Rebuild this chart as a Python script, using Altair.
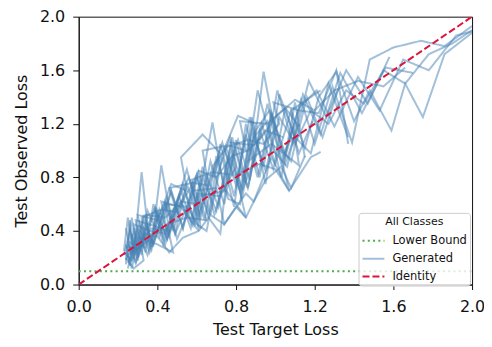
import altair as alt
import pandas as pd

# ---- data ----
kinds = ["Lower Bound", "Generated", "Identity"]
kind_colors = ["#4daa4d", "rgba(70,130,180,0.5)", "#dc143c"]

x_ticks = [0.0, 0.4, 0.8, 1.2, 1.6, 2.0]
y_ticks = [0.0, 0.4, 0.8, 1.2, 1.6, 2.0]

lower_x = [0.0, 2.0]
lower_y = [0.1, 0.1]

identity_x = [0.0, 2.0]
identity_y = [0.0, 2.0]

gen_x = [
    [0.25, 0.27, 0.31, 0.36, 0.40, 0.45, 0.52, 0.58, 0.63, 0.70, 0.76, 0.82, 0.88, 0.95, 1.02, 1.10, 1.18, 1.27, 1.36, 1.45, 1.55, 1.66, 1.78, 1.90, 2.00],
    [0.24, 0.26, 0.30, 0.33, 0.38, 0.44, 0.49, 0.55, 0.61, 0.67, 0.74, 0.80, 0.86, 0.93, 1.00, 1.08, 1.15, 1.22, 1.31, 1.40, 1.48, 1.59, 1.66, 1.75, 1.86, 2.00],
    [0.26, 0.28, 0.32, 0.35, 0.41, 0.47, 0.53, 0.60, 0.66, 0.72, 0.79, 0.85, 0.91, 0.98, 1.05, 1.13, 1.20, 1.29, 1.39, 1.48, 1.60, 1.74, 1.86, 2.00],
    [0.23, 0.25, 0.29, 0.34, 0.39, 0.43, 0.50, 0.56, 0.62, 0.68, 0.75, 0.83, 0.90, 0.97, 1.05, 1.12, 1.21, 1.30, 1.42, 1.53, 1.65, 1.78, 1.92, 2.00],
    [0.25, 0.27, 0.30, 0.34, 0.37, 0.42, 0.48, 0.54, 0.59, 0.65, 0.71, 0.78, 0.84, 0.91, 0.99, 1.06, 1.14, 1.23, 1.33, 1.44, 1.56, 1.70],
    [0.24, 0.26, 0.28, 0.32, 0.36, 0.40, 0.45, 0.51, 0.57, 0.63, 0.69, 0.75, 0.81, 0.87, 0.94, 1.01, 1.08, 1.16, 1.24, 1.32],
    [0.26, 0.29, 0.33, 0.37, 0.41, 0.46, 0.52, 0.57, 0.63, 0.68, 0.74, 0.80, 0.86, 0.92, 0.99, 1.05, 1.12, 1.19],
    [0.24, 0.27, 0.31, 0.35, 0.40, 0.44, 0.49, 0.55, 0.60, 0.66, 0.72, 0.77, 0.83, 0.89, 0.96, 1.03, 1.10, 1.15],
    [0.25, 0.28, 0.31, 0.36, 0.40, 0.45, 0.50, 0.56, 0.61, 0.67, 0.73, 0.79, 0.85, 0.92, 0.98, 1.05, 1.12],
    [0.23, 0.26, 0.30, 0.33, 0.38, 0.42, 0.47, 0.53, 0.58, 0.64, 0.70, 0.76, 0.82, 0.88, 0.95, 1.02, 1.10, 1.18, 1.27, 1.37],
    [0.27, 0.30, 0.34, 0.38, 0.43, 0.48, 0.53, 0.59, 0.65, 0.71, 0.77, 0.83, 0.90, 0.96, 1.03, 1.09],
    [0.24, 0.27, 0.30, 0.35, 0.39, 0.44, 0.50, 0.55, 0.61, 0.67, 0.73, 0.80, 0.87, 0.94, 1.01, 1.09, 1.17, 1.26, 1.36, 1.47, 1.58],
    [0.25, 0.30, 0.28, 0.36, 0.45, 0.42, 0.52, 0.61, 0.58, 0.70, 0.74, 0.85, 0.89, 0.98, 1.07, 1.02],
    [0.26, 0.33, 0.30, 0.40, 0.47, 0.55, 0.52, 0.63, 0.72, 0.68, 0.81, 0.90, 0.86, 0.98, 1.12, 1.08, 1.23],
    [0.24, 0.28, 0.33, 0.31, 0.40, 0.48, 0.45, 0.55, 0.65, 0.61, 0.75, 0.85, 0.80, 0.92, 1.00, 1.07, 1.18, 1.23],
    [0.25, 0.29, 0.34, 0.32, 0.42, 0.50, 0.46, 0.58, 0.66, 0.63, 0.76, 0.85, 0.82, 0.96, 1.05, 1.12],
    [0.24, 0.30, 0.36, 0.34, 0.44, 0.52, 0.60, 0.57, 0.68, 0.78, 0.74, 0.86, 0.94, 1.02, 0.99, 1.12, 1.22, 1.31, 1.37],
    [0.25, 0.31, 0.29, 0.38, 0.46, 0.44, 0.55, 0.62, 0.60, 0.72, 0.80, 0.77, 0.89, 0.95, 1.04],
    [0.23, 0.27, 0.31, 0.37, 0.44, 0.50, 0.56, 0.61, 0.70, 0.78, 0.86, 0.93, 1.00, 1.10, 1.20, 1.30, 1.42, 1.55, 1.66],
    [0.26, 0.30, 0.34, 0.40, 0.46, 0.53, 0.61, 0.67, 0.74, 0.80, 0.85, 0.89, 0.95, 1.03, 1.08, 1.15],
]

gen_y = [
    [0.22, 0.12, 0.40, 0.28, 0.52, 0.34, 0.62, 0.44, 0.80, 0.55, 0.95, 0.70, 1.15, 0.85, 1.25, 1.05, 1.30, 1.20, 1.45, 1.35, 1.60, 1.50, 1.72, 1.80, 1.90],
    [0.30, 0.14, 0.36, 0.48, 0.30, 0.60, 0.38, 0.75, 0.48, 0.92, 0.60, 1.08, 0.72, 1.20, 0.90, 1.30, 1.02, 1.40, 1.59, 1.22, 1.45, 1.15, 1.50, 1.25, 1.72, 1.88],
    [0.18, 0.42, 0.22, 0.55, 0.36, 0.70, 0.42, 0.82, 0.52, 1.05, 0.66, 1.12, 0.80, 1.28, 0.95, 1.38, 1.05, 1.48, 1.06, 1.68, 1.77, 1.82, 1.78, 1.93],
    [0.25, 0.50, 0.16, 0.40, 0.58, 0.35, 0.62, 0.80, 0.50, 0.88, 1.02, 0.72, 1.15, 1.30, 0.98, 1.32, 1.45, 1.18, 1.55, 1.30, 1.68, 1.60, 1.86, 1.89],
    [0.20, 0.38, 0.18, 0.45, 0.28, 0.89, 0.40, 0.70, 0.45, 0.82, 0.58, 1.10, 0.76, 1.45, 1.00, 0.88, 1.42, 1.12, 1.58, 1.28, 1.62, 1.58],
    [0.15, 0.48, 0.22, 0.84, 0.30, 0.55, 0.34, 0.66, 0.42, 0.88, 0.52, 0.82, 1.08, 0.78, 1.59, 1.05, 0.92, 1.40, 1.10, 1.46],
    [0.28, 0.16, 0.42, 0.26, 0.56, 0.36, 0.70, 0.48, 0.80, 1.21, 0.70, 1.00, 0.72, 1.15, 0.86, 1.32, 0.98, 1.22],
    [0.42, 0.20, 0.36, 0.22, 0.48, 0.62, 0.38, 0.58, 0.80, 0.50, 0.38, 1.02, 0.64, 1.10, 1.22, 0.80, 1.36, 0.95],
    [0.12, 0.30, 0.46, 0.24, 0.40, 0.64, 0.34, 0.55, 0.84, 0.52, 0.95, 0.58, 1.20, 0.80, 1.28, 0.90, 1.20],
    [0.22, 0.40, 0.24, 0.52, 0.30, 0.48, 0.70, 0.42, 0.76, 0.48, 0.96, 0.64, 0.60, 1.25, 0.75, 1.42, 1.10, 0.98, 1.50, 1.10],
    [0.26, 0.42, 0.24, 0.60, 0.30, 0.55, 0.75, 0.46, 0.40, 0.85, 1.10, 0.70, 0.95, 1.35, 0.90, 1.18],
    [0.18, 0.50, 0.20, 0.40, 0.56, 0.30, 0.62, 0.86, 0.52, 0.78, 1.06, 0.74, 1.25, 0.88, 1.45, 1.05, 1.52, 1.25, 1.60, 1.35, 1.70],
    [0.30, 0.22, 0.45, 0.40, 0.38, 0.62, 0.58, 0.40, 0.70, 0.72, 0.45, 0.68, 0.62, 0.95, 0.70, 1.00],
    [0.24, 0.30, 0.52, 0.48, 0.75, 0.70, 0.95, 1.12, 0.98, 0.80, 1.26, 1.20, 0.92, 1.05, 0.89, 1.30, 1.45],
    [0.20, 0.12, 0.18, 0.35, 0.30, 0.24, 0.45, 0.50, 0.48, 0.66, 0.70, 0.50, 0.82, 0.90, 0.86, 0.70, 0.95, 0.99],
    [0.16, 0.30, 0.28, 0.50, 0.56, 0.54, 0.72, 0.76, 0.74, 1.00, 1.04, 1.00, 1.22, 1.20, 1.32, 1.18],
    [0.28, 0.26, 0.34, 0.52, 0.50, 0.62, 0.60, 0.78, 0.84, 0.82, 1.02, 1.08, 1.05, 1.20, 1.36, 1.30, 1.28, 1.60, 1.05],
    [0.22, 0.30, 0.48, 0.44, 0.40, 0.60, 0.58, 0.42, 0.68, 0.66, 0.88, 1.06, 1.04, 1.15, 1.10],
    [0.24, 0.18, 0.30, 0.42, 0.40, 0.56, 0.70, 0.85, 0.80, 0.96, 1.00, 1.10, 1.25, 1.38, 1.30, 1.45, 1.52, 1.48, 1.62],
    [0.32, 0.26, 0.38, 0.36, 0.24, 0.35, 0.40, 0.52, 0.45, 0.58, 0.50, 0.62, 0.78, 0.88, 0.72, 0.96],
]

# ---- tables ----
rows = []
for i, (xs, ys) in enumerate(zip(gen_x, gen_y)):
    for j, (xv, yv) in enumerate(zip(xs, ys)):
        rows.append({"kind": "Generated", "line": f"g{i}", "step": j, "x": xv, "y": yv})
gen_df = pd.DataFrame(rows)
lower_df = pd.DataFrame({"kind": "Lower Bound", "line": "lb", "step": [0, 1], "x": lower_x, "y": lower_y})
ident_df = pd.DataFrame({"kind": "Identity", "line": "id", "step": [0, 1], "x": identity_x, "y": identity_y})

FONT = "DejaVu Sans"

x_enc = alt.X("x:Q", scale=alt.Scale(domain=[0, 2], nice=False),
              axis=alt.Axis(title="Test Target Loss", values=x_ticks, format=".1f",
                            labelPadding=9, titlePadding=7, tickSize=5, labelFlush=False,
                            labelOverlap=False))
y_enc = alt.Y("y:Q", scale=alt.Scale(domain=[0, 2], nice=False),
              axis=alt.Axis(title="Test Observed Loss", values=y_ticks, format=".1f",
                            labelPadding=8, titlePadding=10, tickSize=6, labelFlush=False,
                            labelOverlap=False))

legend = alt.Legend(title="All Classes", orient="none", legendX=281, legendY=197,
                    titleAnchor="middle", symbolType="stroke", symbolStrokeWidth=2,
                    symbolSize=484, labelFontSize=11.5, titleFontSize=11,
                    titleFontWeight="normal", labelFont=FONT, titleFont=FONT,
                    fillColor="rgba(255,255,255,0.8)", strokeColor="#cccccc",
                    cornerRadius=3, padding=3, rowPadding=-6, labelOffset=7,
                    titlePadding=2, labelColor="#111", titleColor="#111")

color_enc = alt.Color("kind:N", title="All Classes",
                      scale=alt.Scale(domain=kinds, range=kind_colors), legend=legend)
dash_enc = alt.StrokeDash("kind:N", title="All Classes",
                          scale=alt.Scale(domain=kinds, range=[[2, 3.3], [1, 0], [7, 3]]))


def layer(df, width):
    return alt.Chart(df).mark_line(strokeWidth=width, clip=True).encode(
        x=x_enc, y=y_enc, color=color_enc, strokeDash=dash_enc,
        detail="line:N", order="step:Q")


chart = alt.layer(
    layer(lower_df, 2),
    layer(gen_df, 2),
    layer(ident_df, 2),
).properties(
    width=395, height=269,
    padding={"left": 71, "top": 8, "right": 12, "bottom": 60},
    autosize=alt.AutoSizeParams(type="none"),
).configure_axis(
    labelFont=FONT, titleFont=FONT, labelFontSize=16, titleFontSize=16,
    titleFontWeight="normal", labelColor="#111", titleColor="#111",
    domainColor="#111", tickColor="#111", grid=False,
).configure_view(stroke="#111", strokeWidth=1)

chart.save("out.html", embed_options={"renderer": "svg", "actions": False})
